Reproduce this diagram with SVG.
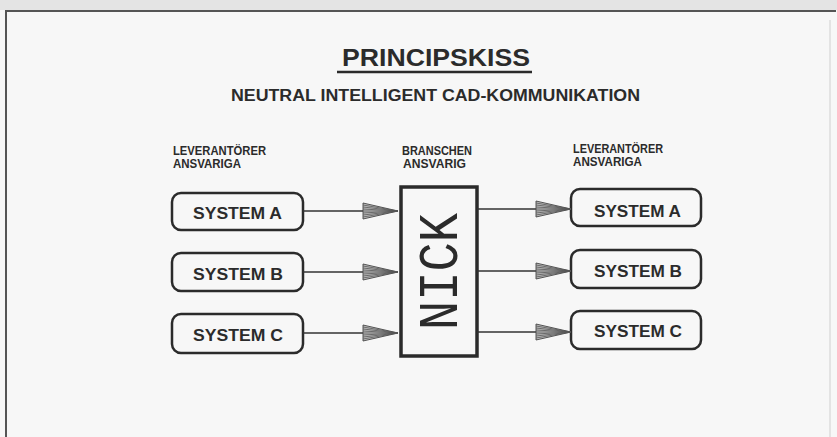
<svg xmlns="http://www.w3.org/2000/svg" width="837" height="437" viewBox="0 0 837 437">
<style>
  .lbl{font-family:"Liberation Sans","DejaVu Sans",sans-serif;font-weight:bold;fill:#2b2b2b}
  .box{fill:none;stroke:#2b2b2b;stroke-width:2.5}
  .sys{font-family:"Liberation Sans","DejaVu Sans",sans-serif;font-weight:bold;font-size:17px;fill:#2b2b2b}
  .ln{stroke:#333;stroke-width:1.3;fill:none}
  .hatch{stroke:#555;stroke-width:0.8;fill:none}
</style>
<defs>
  <g id="ah">
    <path d="M0,-8 L35,0 L0,8 Z" fill="#bdbdbd" stroke="#444" stroke-width="0.9"/>
    <path class="hatch" d="M0,-6 L35,0 M0,-4 L35,0 M0,-2 L35,0 M0,0 L35,0 M0,2 L35,0 M0,4 L35,0 M0,6 L35,0"/>
  </g>
</defs>
<rect x="0" y="0" width="837" height="437" fill="#f7f7f7"/>
<rect x="0" y="0" width="837" height="10" fill="#e4e4e4"/>
<path d="M6,437 L6,11 L836,11" fill="none" stroke="#555" stroke-width="2"/>
<path d="M830,20 L830,437" fill="none" stroke="#dcdcdc" stroke-width="1.5"/>

<g id="title">
  <text class="lbl" x="342" y="66" font-size="24" textLength="188" lengthAdjust="spacingAndGlyphs">PRINCIPSKISS</text>
  <line x1="337" y1="72" x2="532" y2="72" stroke="#2b2b2b" stroke-width="2.5"/>
  <text class="lbl" x="231" y="101" font-size="16" textLength="409" lengthAdjust="spacingAndGlyphs">NEUTRAL INTELLIGENT CAD-KOMMUNIKATION</text>
</g>

<g id="labels">
  <text class="lbl" x="173" y="155" font-size="12" textLength="93" lengthAdjust="spacingAndGlyphs">LEVERANTÖRER</text>
  <text class="lbl" x="173" y="168" font-size="12" textLength="68" lengthAdjust="spacingAndGlyphs">ANSVARIGA</text>
  <text class="lbl" x="402" y="155" font-size="12" textLength="70" lengthAdjust="spacingAndGlyphs">BRANSCHEN</text>
  <text class="lbl" x="403" y="168" font-size="12" textLength="63" lengthAdjust="spacingAndGlyphs">ANSVARIG</text>
  <text class="lbl" x="573" y="153" font-size="12" textLength="90" lengthAdjust="spacingAndGlyphs">LEVERANTÖRER</text>
  <text class="lbl" x="573" y="166" font-size="12" textLength="69" lengthAdjust="spacingAndGlyphs">ANSVARIGA</text>
</g>

<g id="left-a"><rect class="box" x="172" y="193" width="131" height="37" rx="9"/><text class="sys" x="237.5" y="219" text-anchor="middle" textLength="89" lengthAdjust="spacingAndGlyphs">SYSTEM A</text></g>
<g id="left-b"><rect class="box" x="172" y="253" width="131" height="38" rx="9"/><text class="sys" x="238" y="280" text-anchor="middle" textLength="90" lengthAdjust="spacingAndGlyphs">SYSTEM B</text></g>
<g id="left-c"><rect class="box" x="172" y="314" width="131" height="39" rx="9"/><text class="sys" x="238" y="341" text-anchor="middle" textLength="90" lengthAdjust="spacingAndGlyphs">SYSTEM C</text></g>

<g id="nick">
  <rect x="401" y="187" width="76" height="169" fill="none" stroke="#2b2b2b" stroke-width="3.5"/>
  <text transform="translate(439,271.5) rotate(-90)" x="0" y="18" text-anchor="middle" font-family="Liberation Mono, DejaVu Sans Mono, monospace" font-size="56" fill="#2b2b2b" textLength="117" lengthAdjust="spacingAndGlyphs">NICK</text>
</g>

<g id="right-a"><rect class="box" x="571" y="189" width="130" height="37" rx="9"/><text class="sys" x="637.5" y="217" text-anchor="middle" textLength="87" lengthAdjust="spacingAndGlyphs">SYSTEM A</text></g>
<g id="right-b"><rect class="box" x="571" y="250" width="130" height="38" rx="9"/><text class="sys" x="638" y="277" text-anchor="middle" textLength="88" lengthAdjust="spacingAndGlyphs">SYSTEM B</text></g>
<g id="right-c"><rect class="box" x="571" y="311" width="130" height="38" rx="9"/><text class="sys" x="638" y="337" text-anchor="middle" textLength="88" lengthAdjust="spacingAndGlyphs">SYSTEM C</text></g>

<g id="connectors">
  <line class="ln" x1="303" y1="211" x2="363" y2="211"/><use href="#ah" transform="translate(363,211)"/>
  <line class="ln" x1="303" y1="272" x2="363" y2="272"/><use href="#ah" transform="translate(363,272)"/>
  <line class="ln" x1="303" y1="333" x2="363" y2="333"/><use href="#ah" transform="translate(363,333)"/>
  <line class="ln" x1="477" y1="209" x2="536" y2="209"/><use href="#ah" transform="translate(536,209)"/>
  <line class="ln" x1="477" y1="271" x2="536" y2="271"/><use href="#ah" transform="translate(536,271)"/>
  <line class="ln" x1="477" y1="332" x2="536" y2="332"/><use href="#ah" transform="translate(536,332)"/>
</g>
</svg>
